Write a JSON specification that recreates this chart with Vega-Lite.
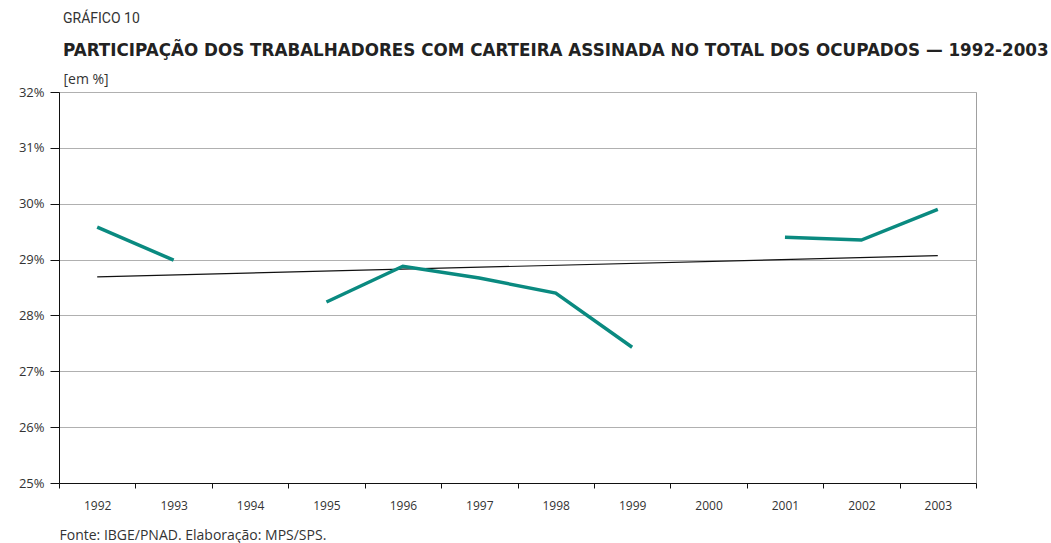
{
  "$schema": "https://vega.github.io/schema/vega-lite/v6.json",
  "autosize": "none",
  "width": 917,
  "height": 391,
  "padding": {"left": 59, "top": 92, "right": 75, "bottom": 60},
  "background": "white",
  "title": {
    "text": "GRÁFICO 10",
    "subtitle": "PARTICIPAÇÃO DOS TRABALHADORES COM CARTEIRA ASSINADA NO TOTAL DOS OCUPADOS — 1992-2003",
    "anchor": "start",
    "frame": "group",
    "dx": 4,
    "offset": 12,
    "font": "Roboto",
    "fontSize": 14,
    "fontWeight": "normal",
    "color": "#333333",
    "subtitleFont": "DejaVu Sans",
    "subtitleFontSize": 16.75,
    "subtitleFontWeight": "bold",
    "subtitleColor": "#222222",
    "subtitlePadding": 17
  },
  "config": {
    "view": {"stroke": "#a0a0a0", "strokeWidth": 1},
    "axis": {"labelFont": "Open Sans", "titleFont": "Open Sans", "labelColor": "#333333", "titleColor": "#333333"}
  },
  "datasets": {
    "series": [
      {"year": "1992", "value": 29.58, "seg": "a"},
      {"year": "1993", "value": 28.99, "seg": "a"},
      {"year": "1995", "value": 28.24, "seg": "b"},
      {"year": "1996", "value": 28.88, "seg": "b"},
      {"year": "1997", "value": 28.67, "seg": "b"},
      {"year": "1998", "value": 28.40, "seg": "b"},
      {"year": "1999", "value": 27.43, "seg": "b"},
      {"year": "2001", "value": 29.40, "seg": "c"},
      {"year": "2002", "value": 29.35, "seg": "c"},
      {"year": "2003", "value": 29.90, "seg": "c"}
    ],
    "trend": [
      {"year": "1992", "value": 28.69},
      {"year": "2003", "value": 29.07}
    ]
  },
  "layer": [
    {
      "data": {"name": "trend"},
      "mark": {"type": "line", "color": "#111111", "strokeWidth": 1.2},
      "encoding": {
        "x": {
          "field": "year", "type": "ordinal",
          "scale": {"domain": ["1992","1993","1994","1995","1996","1997","1998","1999","2000","2001","2002","2003"], "paddingInner": 0, "paddingOuter": 0},
          "axis": {
            "title": "Fonte: IBGE/PNAD. Elaboração: MPS/SPS.",
            "titleAnchor": "start", "titleAlign": "left", "titleX": 0, "titleY": 56, "titleBaseline": "alphabetic",
            "titleFontSize": 14, "titleFontWeight": "normal",
            "labelAngle": 0, "labelFontSize": 12, "labelPadding": 12,
            "tickBand": "extent", "tickSize": 5, "tickColor": "#111111",
            "domainColor": "#111111", "grid": false
          }
        },
        "y": {
          "field": "value", "type": "quantitative",
          "scale": {"domain": [25, 32], "nice": false, "zero": false},
          "axis": {
            "title": "[em %]", "titleAngle": 0, "titleAlign": "left", "titleX": 4, "titleY": -9, "titleBaseline": "alphabetic",
            "titleFontSize": 14, "titleFontWeight": "normal",
            "values": [25,26,27,28,29,30,31,32],
            "labelExpr": "datum.value + '%'",
            "labelFontSize": 13, "labelPadding": 6, "tickSize": 9, "tickColor": "#111111",
            "domainColor": "#111111", "gridColor": "#b0b0b0", "gridWidth": 1
          }
        }
      }
    },
    {
      "data": {"name": "series"},
      "mark": {"type": "line", "color": "#0a8a80", "strokeWidth": 3.5},
      "encoding": {
        "x": {"field": "year", "type": "ordinal"},
        "y": {"field": "value", "type": "quantitative"},
        "detail": {"field": "seg"}
      }
    }
  ]
}
